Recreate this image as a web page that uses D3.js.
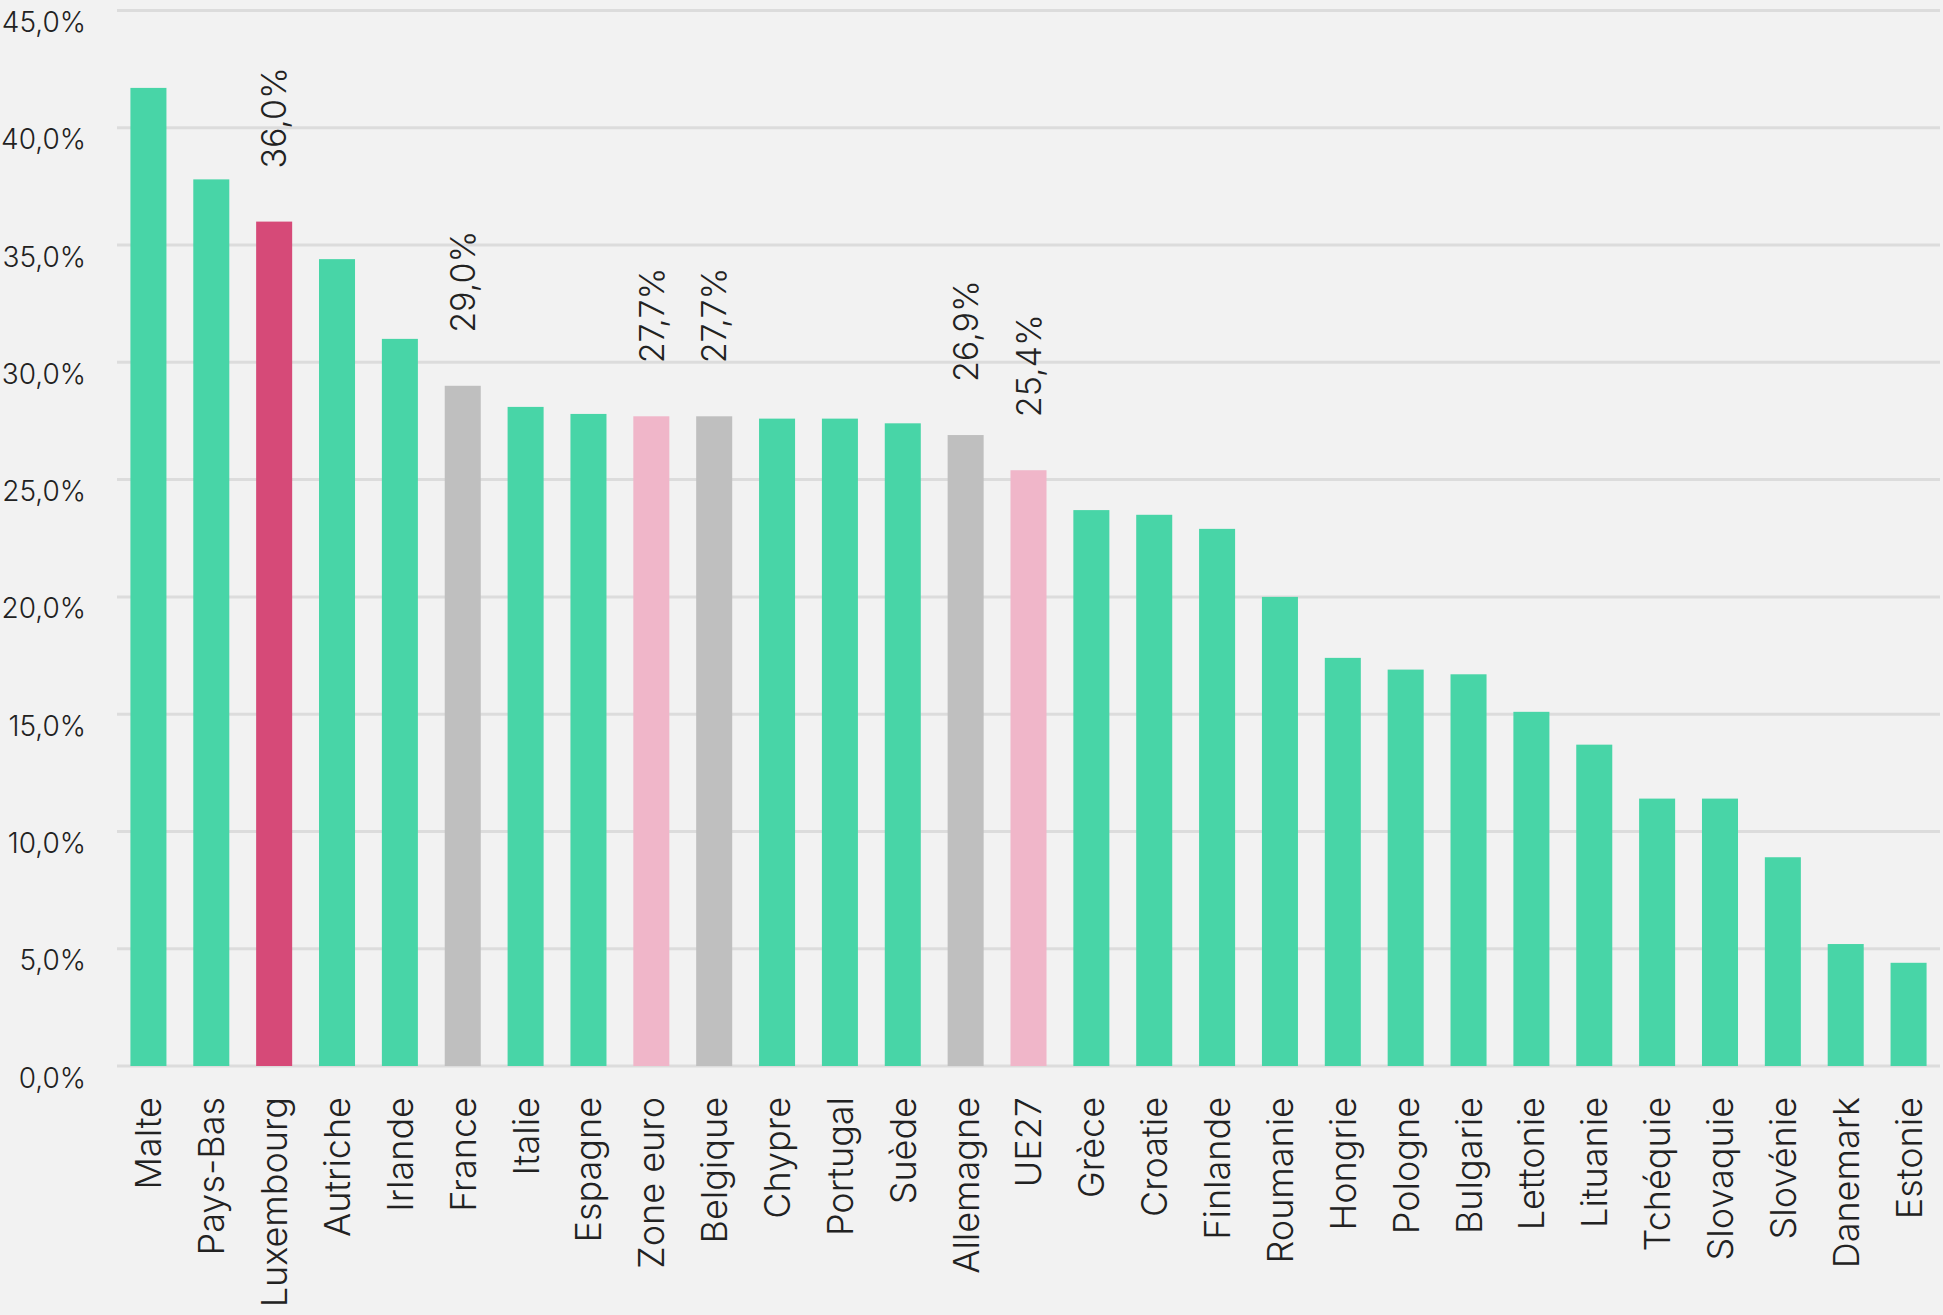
<!DOCTYPE html>
<html>
<head>
<meta charset="utf-8">
<script src="https://cdn.jsdelivr.net/npm/d3@7"></script>
<style>
  html, body { margin: 0; padding: 0; background: #f2f2f2; }
  svg { display: block; font-family: Inter, "Noto Sans", sans-serif; }
</style>
</head>
<body>
<div id="chart"></div>
<script>
// Pays et valeurs (%)
const countries = ["Malte", "Pays-Bas", "Luxembourg", "Autriche", "Irlande", "France", "Italie", "Espagne",
  "Zone euro", "Belgique", "Chypre", "Portugal", "Suède", "Allemagne", "UE27", "Grèce", "Croatie",
  "Finlande", "Roumanie", "Hongrie", "Pologne", "Bulgarie", "Lettonie", "Lituanie", "Tchéquie",
  "Slovaquie", "Slovénie", "Danemark", "Estonie"];
const values = [41.7, 37.8, 36.0, 34.4, 31.0, 29.0, 28.1, 27.8,
  27.7, 27.7, 27.6, 27.6, 27.4, 26.9, 25.4, 23.7, 23.5,
  22.9, 20.0, 17.4, 16.9, 16.7, 15.1, 13.7, 11.4,
  11.4, 8.9, 5.2, 4.4];
// pays mis en avant avec une étiquette
const highlight = { "Luxembourg": "lux", "France": "grey", "Belgique": "grey", "Allemagne": "grey",
  "Zone euro": "agg", "UE27": "agg" };
const yTicks = [0, 5, 10, 15, 20, 25, 30, 35, 40, 45];

const colors = { base: "#48d5a7", lux: "#d64a78", grey: "#bfbfbf", agg: "#f0b6c9" };

const width = 1943, height = 1315;
const x0 = 117, x1 = 1940, yTop = 10.5, yBottom = 1066;

const svg = d3.select("#chart").append("svg")
  .attr("width", width)
  .attr("height", height);

svg.append("rect").attr("width", width).attr("height", height).attr("fill", "#f2f2f2");

const x = d3.scaleBand()
  .domain(countries)
  .range([x0, x1])
  .paddingInner(0.427)
  .paddingOuter(0.2135);

const y = d3.scaleLinear()
  .domain([0, 45])
  .range([yBottom, yTop]);

// grille
svg.append("g")
  .selectAll("line")
  .data(yTicks)
  .join("line")
  .attr("x1", x0)
  .attr("x2", x1)
  .attr("y1", d => y(d))
  .attr("y2", d => y(d))
  .attr("stroke", "#dcdcdc")
  .attr("stroke-width", 3);

// axe Y
const fmt = d => d.toFixed(1).replace(".", ",") + "%";
const yAxis = svg.append("g")
  .attr("transform", `translate(86,0)`)
  .call(d3.axisLeft(y).tickValues(yTicks).tickFormat(fmt).tickSize(0).tickPadding(0));
yAxis.select(".domain").remove();
yAxis.selectAll("text")
  .attr("dy", "0.75em")
  .attr("fill", "#222")
  .style("font-size", "28px")
  .style("font-weight", 300)
  .style("font-family", "Inter, sans-serif");

// barres
const data = countries.map((c, i) => ({ country: c, value: values[i] }));
svg.append("g")
  .selectAll("rect")
  .data(data)
  .join("rect")
  .attr("x", d => x(d.country))
  .attr("width", x.bandwidth())
  .attr("y", d => y(d.value))
  .attr("height", d => y(0) - y(d.value))
  .attr("fill", d => colors[highlight[d.country] || "base"]);

// étiquettes de valeur
svg.append("g")
  .selectAll("text")
  .data(data.filter(d => highlight[d.country]))
  .join("text")
  .attr("transform", d => `translate(${x(d.country) + x.bandwidth() / 2},${y(d.value) - 53}) rotate(-90)`)
  .attr("dy", "0.36em")
  .attr("text-anchor", "start")
  .attr("fill", "#222")
  .style("font-size", "34px")
  .style("font-weight", 300)
  .text(d => fmt(d.value));

// axe X
const xAxis = svg.append("g")
  .attr("transform", `translate(0,${yBottom})`)
  .call(d3.axisBottom(x).tickSize(0).tickPadding(0));
xAxis.select(".domain").remove();
xAxis.selectAll("text")
  .attr("transform", "translate(0,31) rotate(-90)")
  .attr("x", 0)
  .attr("y", 0)
  .attr("dy", "0.36em")
  .attr("text-anchor", "end")
  .attr("fill", "#222")
  .style("font-size", "36px")
  .style("font-weight", 300)
  .style("font-family", "Inter, sans-serif");
</script>
</body>
</html>
